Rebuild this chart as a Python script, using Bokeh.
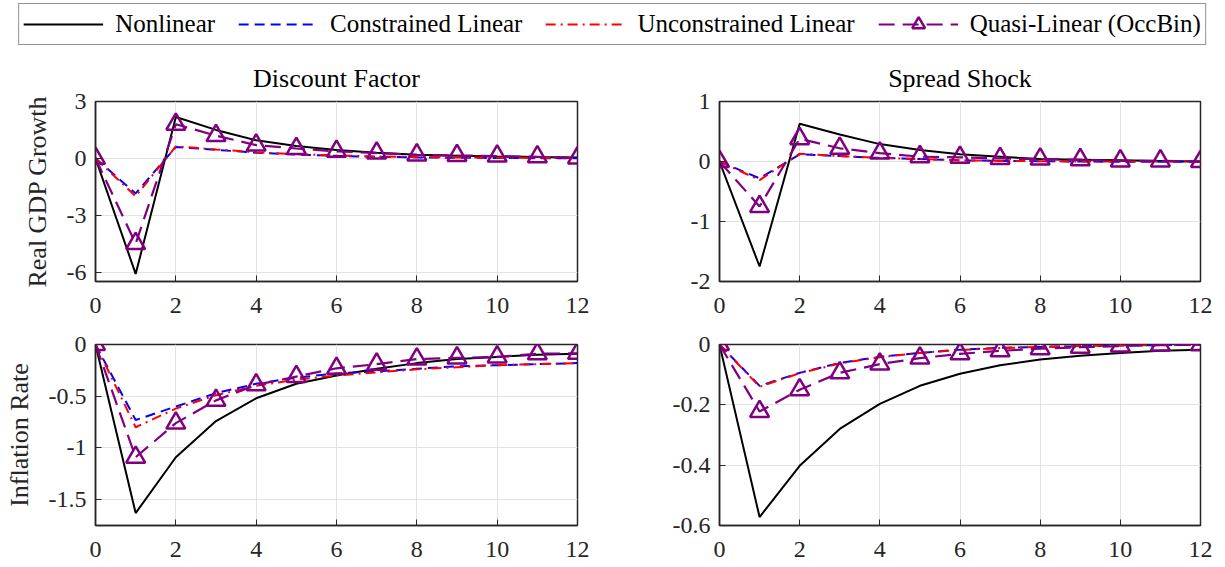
from bokeh.plotting import figure
from bokeh.layouts import column, row
from bokeh.models import Range1d, FixedTicker, Legend, LegendItem
from bokeh.embed import file_html
from bokeh.resources import INLINE

# ---------------- data ----------------
horizon = list(range(13))

series_names = ["Nonlinear", "Constrained Linear", "Unconstrained Linear", "Quasi-Linear (OccBin)"]

gdp_discount_nonlinear = [0, -6.1, 2.18, 1.5, 0.95, 0.65, 0.44, 0.3, 0.19, 0.14, 0.1, 0.07, 0.05]
gdp_discount_constrained = [0, -1.85, 0.6, 0.45, 0.3, 0.2, 0.13, 0.08, 0.05, 0.03, 0.02, 0.01, 0.01]
gdp_discount_unconstrained = [0, -2.0, 0.63, 0.47, 0.32, 0.22, 0.15, 0.1, 0.07, 0.05, 0.03, 0.02, 0.01]
gdp_discount_occbin = [0, -4.5, 1.8, 1.2, 0.7, 0.52, 0.37, 0.28, 0.18, 0.15, 0.12, 0.08, 0.02]

gdp_spread_nonlinear = [0, -1.75, 0.63, 0.45, 0.29, 0.19, 0.12, 0.08, 0.04, 0.03, 0.02, 0.01, 0.0]
gdp_spread_constrained = [0, -0.28, 0.12, 0.09, 0.06, 0.04, 0.02, 0.01, 0.005, 0.0, -0.005, -0.005, -0.005]
gdp_spread_unconstrained = [0, -0.31, 0.13, 0.09, 0.06, 0.04, 0.02, 0.01, 0.005, 0.0, 0.0, 0.0, 0.0]
gdp_spread_occbin = [0, -0.75, 0.38, 0.22, 0.14, 0.08, 0.07, 0.05, 0.04, 0.03, 0.01, 0.01, 0.0]

infl_discount_nonlinear = [0, -1.63, -1.09, -0.74, -0.52, -0.38, -0.30, -0.235, -0.18, -0.14, -0.12, -0.10, -0.09]
infl_discount_constrained = [0, -0.73, -0.60, -0.47, -0.38, -0.32, -0.28, -0.26, -0.235, -0.21, -0.20, -0.19, -0.18]
infl_discount_unconstrained = [0, -0.80, -0.62, -0.49, -0.40, -0.34, -0.30, -0.27, -0.24, -0.22, -0.20, -0.19, -0.18]
infl_discount_occbin = [0, -1.09, -0.76, -0.54, -0.39, -0.31, -0.23, -0.19, -0.14, -0.13, -0.12, -0.09, -0.085]

infl_spread_nonlinear = [0, -0.572, -0.402, -0.28, -0.197, -0.137, -0.097, -0.069, -0.05, -0.037, -0.028, -0.021, -0.017]
infl_spread_constrained = [0, -0.137, -0.094, -0.061, -0.041, -0.028, -0.017, -0.011, -0.008, -0.006, -0.003, -0.002, -0.001]
infl_spread_unconstrained = [0, -0.14, -0.095, -0.063, -0.042, -0.028, -0.018, -0.012, -0.008, -0.005, -0.003, -0.002, -0.001]
infl_spread_occbin = [0, -0.222, -0.15, -0.094, -0.065, -0.045, -0.031, -0.021, -0.014, -0.009, -0.005, -0.002, -0.001]

x_ticks = [0, 2, 4, 6, 8, 10, 12]
gdp_discount_ticks = [-6, -3, 0, 3]
gdp_discount_tick_labels = ["-6", "-3", "0", "3"]
gdp_spread_ticks = [-2, -1, 0, 1]
gdp_spread_tick_labels = ["-2", "-1", "0", "1"]
infl_discount_ticks = [-1.5, -1, -0.5, 0]
infl_discount_tick_labels = ["-1.5", "-1", "-0.5", "0"]
infl_spread_ticks = [-0.6, -0.4, -0.2, 0]
infl_spread_tick_labels = ["-0.6", "-0.4", "-0.2", "0"]

titles = ["Discount Factor", "Spread Shock"]
row_labels = ["Real GDP Growth", "Inflation Rate"]

# ---------------- styles ----------------
FONT = "Liberation Serif"
AX = "#262626"
GRID = "#e3e3e3"
STYLES = [
    dict(line_color="black", line_width=2, line_dash="solid"),
    dict(line_color="#0000ff", line_width=2, line_dash="10 6"),
    dict(line_color="#ff0000", line_width=2, line_dash="10 5 2 5"),
    dict(line_color="#800080", line_width=2.2, line_dash="16 8"),
]
MARKER = dict(marker="triangle", size=19, line_color="#800080", line_width=2.5, fill_alpha=0)


def style_axis(ax, ticks, labels=None):
    ax.ticker = FixedTicker(ticks=ticks)
    if labels is not None:
        ax.major_label_overrides = {t: l for t, l in zip(ticks, labels)}
    ax.major_tick_in = 6
    ax.major_tick_out = 0
    ax.minor_tick_line_color = None
    ax.major_tick_line_color = AX
    ax.major_tick_line_width = 1
    ax.axis_line_color = AX
    ax.axis_line_width = 1.5
    ax.major_label_text_font = FONT
    ax.major_label_text_color = AX
    ax.major_label_text_font_size = "24px"


def make_panel(data, yr, yticks, ylabels, width, height, borders, title=None, ylabel=None):
    bl, br, bt, bb = borders
    p = figure(width=width, height=height, x_range=Range1d(0, 12), y_range=Range1d(*yr),
               toolbar_location=None, output_backend="svg",
               min_border_left=bl, min_border_right=br, min_border_top=bt, min_border_bottom=bb)
    p.outline_line_color = AX
    p.outline_line_width = 1.5
    style_axis(p.xaxis[0], x_ticks)
    p.xaxis[0].major_label_standoff = 16
    style_axis(p.yaxis[0], yticks, ylabels)
    p.yaxis[0].major_label_standoff = 9
    p.xgrid.ticker = FixedTicker(ticks=x_ticks)
    p.ygrid.ticker = FixedTicker(ticks=yticks)
    p.grid.grid_line_color = GRID
    p.grid.grid_line_width = 1
    if title:
        p.title.text = title
        p.title.align = "center"
        p.title.text_font = FONT
        p.title.text_font_size = "26px"
        p.title.text_font_style = "normal"
        p.title.text_color = "black"
        p.title.standoff = 18
    if ylabel:
        p.yaxis[0].axis_label = ylabel
        p.yaxis[0].axis_label_text_font = FONT
        p.yaxis[0].axis_label_text_font_size = "26px"
        p.yaxis[0].axis_label_text_font_style = "normal"
        p.yaxis[0].axis_label_text_color = AX
        p.yaxis[0].axis_label_standoff = 12
    for ys, st in zip(data, STYLES):
        p.line(horizon, ys, **st)
    p.scatter(horizon, data[3], **MARKER)
    return p


tl = make_panel([gdp_discount_nonlinear, gdp_discount_constrained, gdp_discount_unconstrained, gdp_discount_occbin],
                (-6.5, 3), gdp_discount_ticks, gdp_discount_tick_labels, 620, 270, (95, 43, 51, 39),
                title=titles[0], ylabel=row_labels[0])
tr = make_panel([gdp_spread_nonlinear, gdp_spread_constrained, gdp_spread_unconstrained, gdp_spread_occbin],
                (-2, 1), gdp_spread_ticks, gdp_spread_tick_labels, 604, 270, (99, 24, 51, 39),
                title=titles[1])
bl = make_panel([infl_discount_nonlinear, infl_discount_constrained, infl_discount_unconstrained, infl_discount_occbin],
                (-1.75, 0), infl_discount_ticks, infl_discount_tick_labels, 620, 246, (95, 43, 24, 41),
                ylabel=row_labels[1])
br = make_panel([infl_spread_nonlinear, infl_spread_constrained, infl_spread_unconstrained, infl_spread_occbin],
                (-0.6, 0), infl_spread_ticks, infl_spread_tick_labels, 604, 246, (99, 24, 24, 41))

# ---------------- legend ----------------
lf = figure(width=1224, height=50, x_range=Range1d(0, 1), y_range=Range1d(0, 1),
            toolbar_location=None, output_backend="svg", min_border=0,
            x_axis_location=None, y_axis_location=None)
lf.grid.visible = False
lf.outline_line_color = None
# legend proxies: one point each, placed outside the visible range
proxy_x = [5]
proxy_y = [5]
lr = [lf.line(x=proxy_x, y=proxy_y, **st) for st in STYLES]
lm = lf.scatter(x=proxy_x, y=proxy_y, **MARKER)
items = [LegendItem(label=series_names[0], renderers=[lr[0]]),
         LegendItem(label=series_names[1], renderers=[lr[1]]),
         LegendItem(label=series_names[2], renderers=[lr[2]]),
         LegendItem(label=series_names[3], renderers=[lr[3], lm])]
legend = Legend(items=items, orientation="horizontal", location="top_center",
                glyph_width=80, glyph_height=32, label_standoff=12, spacing=23, padding=4, margin=3,
                label_text_font=FONT, label_text_font_size="25px", label_text_color="black",
                border_line_color=AX, border_line_width=1, background_fill_color="white")
lf.add_layout(legend, "center")

layout = column(lf, row(tl, tr), row(bl, br))
open("out.html", "w").write(file_html(layout, INLINE))
